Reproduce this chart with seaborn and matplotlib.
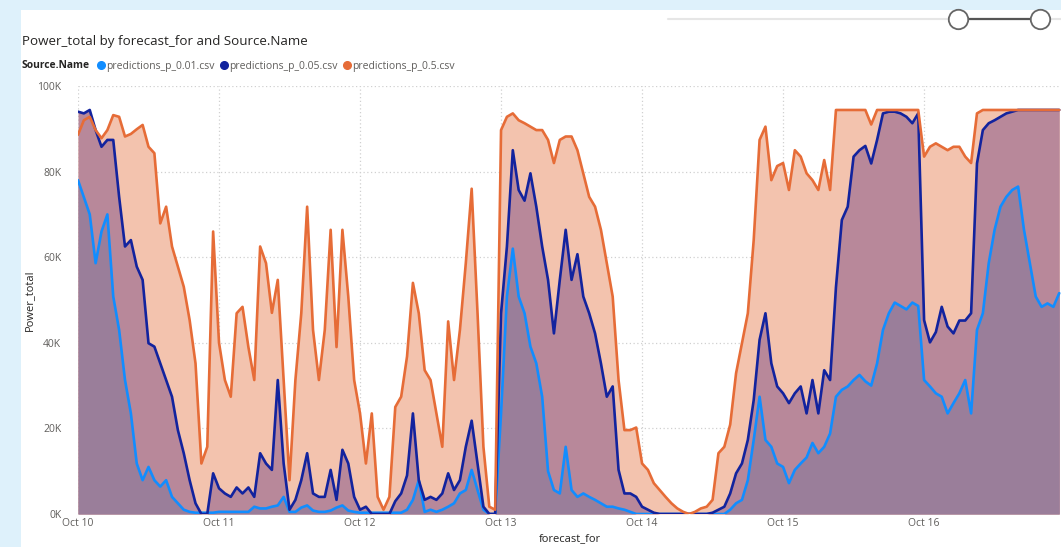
import pandas as pd
import seaborn as sns
import matplotlib.pyplot as plt
import matplotlib.dates as mdates
from matplotlib.lines import Line2D
from matplotlib.patches import Rectangle

# Hourly readings (thousands) starting Oct 10 00:00
start = "2023-10-10"

p_001 = [78.0, 74.0, 70.0, 58.6, 66.0, 70.0, 50.8, 43.0, 31.3, 23.5, 11.8, 7.9,
         11.0, 7.9, 6.4, 7.9, 4.0, 2.5, 1.0, 0.5, 0.3, 0.3, 0.3, 0.3,
         0.5, 0.5, 0.5, 0.5, 0.5, 0.5, 1.7, 1.3, 1.3, 1.7, 2.0, 4.0,
         0.5, 0.5, 1.5, 2.0, 0.8, 0.5, 0.5, 0.8, 1.5, 2.0, 0.8, 0.5,
         0.3, 0.3, 0.3, 0.3, 0.3, 0.3, 0.3, 0.3, 1.0, 3.3, 7.9, 0.5,
         1.0, 0.5, 1.0, 1.7, 2.5, 4.8, 5.6, 10.3, 5.6, 1.0, 0.0, 0.0,
         23.5, 50.8, 62.0, 50.8, 46.9, 39.1, 35.2, 27.4, 10.0, 5.6, 4.8, 15.7,
         5.6, 4.0, 4.8, 4.0, 3.3, 2.5, 1.7, 1.7, 1.3, 1.0, 0.5, 0.0,
         0.0, 0.0, 0.0, 0.0, 0.0, 0.0, 0.0, 0.0, 0.0, 0.0, 0.0, 0.0,
         0.0, 0.0, 0.0, 1.0, 2.5, 3.3, 7.9, 17.3, 27.4, 17.3, 15.7, 11.8,
         11.0, 7.2, 10.3, 11.8, 13.2, 16.6, 14.2, 15.7, 18.8, 27.4, 29.0, 29.8,
         31.3, 32.5, 31.0, 30.0, 35.2, 43.0, 46.9, 49.4, 48.6, 47.8, 49.4, 48.6,
         31.3, 29.8, 28.2, 27.4, 23.5, 25.9, 28.2, 31.3, 23.5, 43.0, 46.9, 58.6,
         66.4, 71.8, 74.1, 75.7, 76.5, 66.4, 58.6, 50.8, 48.4, 49.2, 48.4, 51.6]

p_005 = [94.0, 93.6, 94.4, 89.7, 85.8, 87.4, 87.4, 74.1, 62.5, 64.0, 57.8, 54.7,
         39.9, 39.1, 35.2, 31.3, 27.4, 19.6, 14.2, 7.9, 2.5, 0.0, 0.0, 9.5,
         6.0, 4.8, 4.0, 6.2, 4.8, 6.2, 4.0, 14.2, 11.8, 10.3, 31.3, 11.8,
         1.0, 3.3, 7.9, 14.2, 4.8, 4.0, 4.0, 10.3, 3.3, 15.0, 11.8, 4.0,
         1.0, 1.7, 0.0, 0.0, 0.0, 0.0, 3.0, 4.8, 9.0, 23.5, 7.9, 3.3,
         4.0, 3.3, 4.8, 9.5, 5.6, 7.9, 15.7, 21.8, 11.8, 1.7, 0.0, 0.0,
         46.9, 62.5, 85.0, 75.7, 73.2, 79.6, 71.8, 62.5, 54.7, 42.2, 54.7, 66.4,
         54.7, 60.7, 50.8, 46.9, 42.2, 35.2, 27.4, 29.8, 10.3, 4.8, 4.8, 4.0,
         1.7, 1.0, 0.3, 0.0, 0.0, 0.0, 0.0, 0.0, 0.0, 0.0, 0.0, 0.0,
         0.3, 1.0, 1.7, 4.8, 9.5, 11.8, 17.3, 26.6, 40.7, 46.9, 35.2, 29.8,
         28.2, 25.9, 28.2, 29.8, 23.5, 31.3, 23.5, 33.6, 31.3, 53.0, 68.7, 71.8,
         83.5, 85.0, 86.0, 81.9, 87.4, 93.6, 94.0, 94.0, 93.6, 92.8, 91.3, 93.6,
         45.3, 40.1, 42.5, 48.4, 43.8, 42.2, 45.2, 45.2, 46.9, 81.9, 89.7, 91.3,
         92.0, 92.8, 93.6, 94.0, 94.4, 94.4, 94.4, 94.4, 94.4, 94.4, 94.4, 94.4]

p_05 = [88.6, 92.0, 92.8, 89.7, 87.8, 89.7, 93.2, 92.8, 88.2, 88.8, 89.9, 90.9,
        85.8, 84.3, 67.9, 71.8, 62.5, 57.8, 53.1, 45.3, 35.2, 11.8, 15.7, 66.0,
        40.0, 31.3, 27.4, 46.9, 48.4, 39.0, 31.3, 62.5, 58.6, 47.0, 54.7, 31.3,
        7.9, 31.3, 46.9, 71.8, 43.0, 31.3, 43.0, 66.4, 39.0, 66.4, 50.8, 31.3,
        23.5, 11.8, 23.5, 4.0, 1.0, 4.0, 25.0, 27.4, 36.8, 54.0, 46.9, 33.6,
        31.3, 23.5, 15.7, 45.0, 31.3, 43.0, 58.6, 76.0, 46.9, 15.7, 1.7, 1.0,
        89.7, 92.8, 93.6, 92.0, 91.3, 90.5, 89.7, 89.7, 87.4, 82.0, 87.4, 88.2,
        88.2, 85.0, 79.6, 74.1, 71.8, 66.4, 58.6, 50.8, 31.3, 19.6, 19.6, 20.2,
        11.8, 10.3, 7.2, 5.6, 4.0, 2.5, 1.3, 0.5, 0.0, 0.5, 1.3, 1.7,
        3.3, 14.2, 15.7, 20.9, 32.9, 39.9, 46.9, 64.0, 87.4, 90.5, 78.0, 81.3,
        82.0, 75.7, 85.0, 83.5, 79.6, 78.0, 75.7, 82.7, 75.7, 94.4, 94.4, 94.4,
        94.4, 94.4, 94.4, 91.0, 94.4, 94.4, 94.4, 94.4, 94.4, 94.4, 94.4, 94.4,
        83.5, 85.8, 86.6, 85.8, 85.0, 85.8, 85.8, 83.5, 82.0, 93.6, 94.4, 94.4,
        94.4, 94.4, 94.4, 94.4, 94.4, 94.4, 94.4, 94.4, 94.4, 94.4, 94.4, 94.4]

names = ["predictions_p_0.01.csv", "predictions_p_0.05.csv", "predictions_p_0.5.csv"]
line_colors = ["#118DFF", "#12239E", "#E66C37"]
fill_colors = ["#9A7E9A", "#B8889A", "#F3C3AE"]

times = pd.date_range(start, periods=len(p_05), freq="h")
wide = pd.DataFrame({"forecast_for": times, names[0]: p_001, names[1]: p_005, names[2]: p_05})
df = wide.melt(id_vars="forecast_for", var_name="Source.Name", value_name="Power_total")

sns.set_style("white")
plt.rcParams["font.family"] = ["Open Sans", "DejaVu Sans"]

W, H = 1061, 547
fig = plt.figure(figsize=(W / 100, H / 100), dpi=100)
fig.patch.set_facecolor("#DEF1FB")
# white visual card
fig.add_artist(Rectangle((21 / W, 0), 1, 1 - 10 / H, transform=fig.transFigure,
                         facecolor="white", edgecolor="none", zorder=-1))

ax = fig.add_axes([78 / W, 33 / H, (W - 78) / W, (514 - 86) / H])
ax.set_facecolor("none")

# areas: widest series at the back
for name, fc, z in zip(names[::-1], fill_colors[::-1], [1.0, 1.1, 1.2]):
    ax.fill_between(wide["forecast_for"], wide[name], 0, color=fc, lw=0, zorder=z)

sns.lineplot(data=df, x="forecast_for", y="Power_total", hue="Source.Name",
             palette=dict(zip(names, line_colors)), hue_order=names,
             estimator=None, linewidth=1.9, legend=False, ax=ax, zorder=3)

ax.set_ylim(0, 100)
ax.set_xlim(times[0], times[0] + pd.Timedelta(hours=167.3))
ax.set_yticks([0, 20, 40, 60, 80, 100])
ax.yaxis.set_major_formatter(plt.FuncFormatter(lambda v, p: f"{v:.0f}K"))
ax.xaxis.set_major_locator(mdates.DayLocator())
ax.xaxis.set_major_formatter(mdates.DateFormatter("%b %d"))

ax.set_axisbelow(True)
ax.grid(True, linestyle=(0, (1, 2)), color="#D0D0D0", linewidth=0.9)
for s in ax.spines.values():
    s.set_visible(False)
ax.tick_params(axis="both", length=0, labelsize=7.5, labelcolor="#605E5C")
ax.tick_params(axis="y", pad=12)
ax.tick_params(axis="x", pad=3)

ax.set_xlabel("forecast_for", fontsize=8, color="#252423")
ax.set_ylabel("Power_total", fontsize=8, color="#252423")
ax.xaxis.set_label_coords(0.5, -0.045)
ax.yaxis.set_label_coords(-0.044, 0.5)

# title and legend
fig.text(22 / W, 1 - 42 / H, "Power_total by forecast_for and Source.Name",
         fontsize=9.6, color="#252423", va="center")
fig.text(22 / W, 1 - 66 / H, "Source.Name", fontsize=7.4, fontweight="bold",
         color="#252423", va="center")
handles = [Line2D([], [], linestyle="none", marker="o", markersize=5.5,
                  markerfacecolor=c, markeredgecolor=c) for c in line_colors]
fig.legend(handles, names, loc="center left", bbox_to_anchor=(97 / W, 1 - 66 / H),
           ncol=3, frameon=False, fontsize=7.5, labelcolor="#605E5C",
           handlelength=0.7, handletextpad=0.15, columnspacing=0.55,
           borderpad=0, borderaxespad=0)

# range slider at the top right
ty = 1 - 19 / H
fig.add_artist(Line2D([668 / W, 1], [ty, ty], transform=fig.transFigure,
                      color="#E6E6E6", lw=1.5))
fig.add_artist(Line2D([958 / W, 1040 / W], [ty, ty], transform=fig.transFigure,
                      color="#555555", lw=1.6))
fig.add_artist(Line2D([958 / W, 1040 / W], [ty, ty], transform=fig.transFigure,
                      linestyle="none", marker="o", markersize=14,
                      markerfacecolor="white", markeredgecolor="#666666", mew=1.3))

fig.savefig("out.png", dpi=100)
